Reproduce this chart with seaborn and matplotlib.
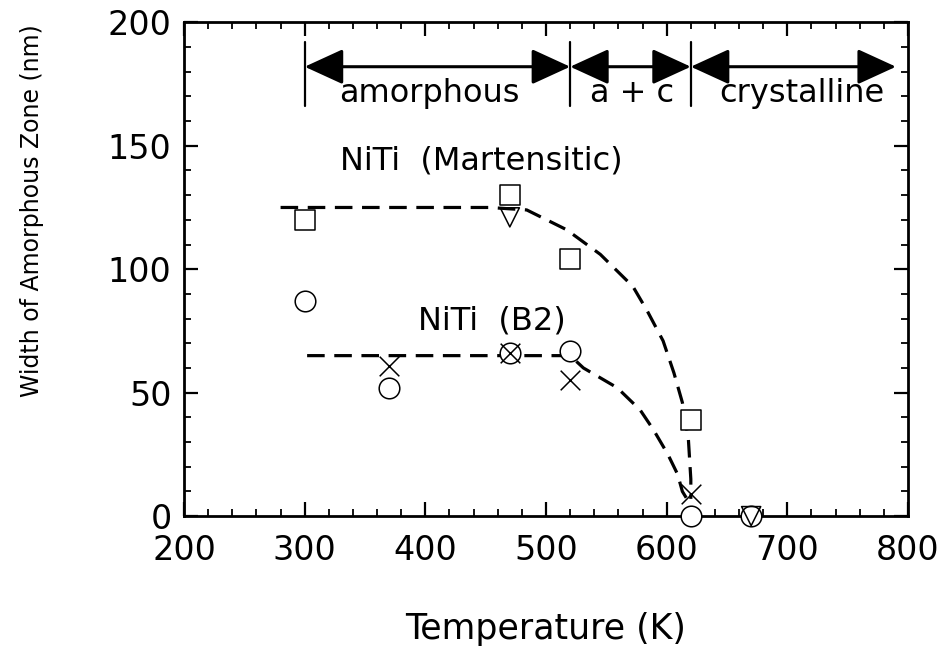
import seaborn as sns
import matplotlib.pyplot as plt
import pandas as pd
from matplotlib.ticker import MultipleLocator

# measured points (temperature K, width nm)
sq_T = [300, 470, 520, 620]
sq_W = [120, 130, 104, 39]
tri_T = [470, 670]
tri_W = [121, 0]
circ_T = [300, 370, 470, 520, 620, 670]
circ_W = [87, 52, 66, 67, 0, 0]
cross_T = [370, 470, 520, 620]
cross_W = [61, 66, 55, 9]

# dashed guide curves
mart_T = [280, 453, 484, 517, 545, 572, 584, 597, 606, 613, 618, 620, 620]
mart_W = [125, 125, 124, 116, 106, 93, 83, 71, 58, 46, 31, 15, 7]
b2_T = [302, 520, 531, 559, 578, 589, 601, 609, 613, 618]
b2_W = [65, 65, 60, 52, 43, 35, 25, 17, 10, 6]

# phase regions along the top
phase_edges = [300, 520, 620, 790]
phase_names = ["amorphous", "a + c", "crystalline"]
phase_label_x = [403, 571, 712]

sns.set_style("ticks")
plt.rcParams["font.family"] = ["DejaVu Sans"]
plt.rcParams["text.color"] = "black"
plt.rcParams["axes.labelcolor"] = "black"
plt.rcParams["xtick.color"] = "black"
plt.rcParams["ytick.color"] = "black"

fig = plt.figure(figsize=(9.39, 6.55), dpi=100)
ax = fig.add_axes([0.196, 0.212, 0.771, 0.754])

curves = pd.concat([
    pd.DataFrame({"T": mart_T, "W": mart_W, "alloy": "mart"}),
    pd.DataFrame({"T": b2_T, "W": b2_W, "alloy": "b2"}),
])
for name, d in curves.groupby("alloy"):
    sns.lineplot(data=d, x="T", y="W", sort=False, estimator=None, color="black",
                 lw=2.3, ax=ax, dashes=False, linestyle=(0, (5.5, 3)))

ms = 220
sns.scatterplot(x=sq_T, y=sq_W, marker="s", s=ms, facecolor="white", edgecolor="black",
                linewidth=1.1, ax=ax, clip_on=False, zorder=3)
sns.scatterplot(x=circ_T, y=circ_W, marker="o", s=ms, facecolor="white", edgecolor="black",
                linewidth=1.1, ax=ax, clip_on=False, zorder=3)
sns.scatterplot(x=tri_T, y=tri_W, marker="v", s=190, facecolor="none", edgecolor="black",
                linewidth=1.1, ax=ax, clip_on=False, zorder=4)
sns.scatterplot(x=cross_T, y=cross_W, marker="x", s=200, color="black",
                linewidth=1.1, ax=ax, clip_on=False, zorder=4)

# phase arrows
for i, name in enumerate(phase_names):
    ax.annotate("", xy=(phase_edges[i + 1], 182), xytext=(phase_edges[i], 182),
                arrowprops=dict(arrowstyle="<|-|>,head_length=1.2,head_width=0.55",
                                mutation_scale=20, color="black", lw=2.2,
                                shrinkA=0, shrinkB=0))
    ax.text(phase_label_x[i], 171, name, ha="center", va="center", fontsize=23)
for e in phase_edges[:3]:
    ax.plot([e, e], [166, 192], color="black", lw=1.6)

ax.text(446, 144, "NiTi  (Martensitic)", ha="center", va="center", fontsize=23)
ax.text(455, 79, "NiTi  (B2)", ha="center", va="center", fontsize=23)

ax.set_xlim(200, 800)
ax.set_ylim(0, 200)
ax.xaxis.set_major_locator(MultipleLocator(100))
ax.xaxis.set_minor_locator(MultipleLocator(20))
ax.yaxis.set_major_locator(MultipleLocator(50))
ax.yaxis.set_minor_locator(MultipleLocator(10))
ax.tick_params(which="both", direction="in", top=True, right=True)
ax.tick_params(which="major", length=10, width=1.6, labelsize=24)
ax.tick_params(axis="x", which="major", pad=13)
ax.tick_params(axis="y", which="major", pad=9)
ax.tick_params(which="minor", length=5, width=1.3)
for s in ax.spines.values():
    s.set_linewidth(2)
    s.set_color("black")

ax.set_xlabel("Temperature (K)", fontsize=25, labelpad=32)
ax.set_ylabel("Width of Amorphous Zone (nm)", fontsize=17)
ax.yaxis.set_label_coords(-0.194, 0.618)

fig.savefig("out.png", dpi=100)
